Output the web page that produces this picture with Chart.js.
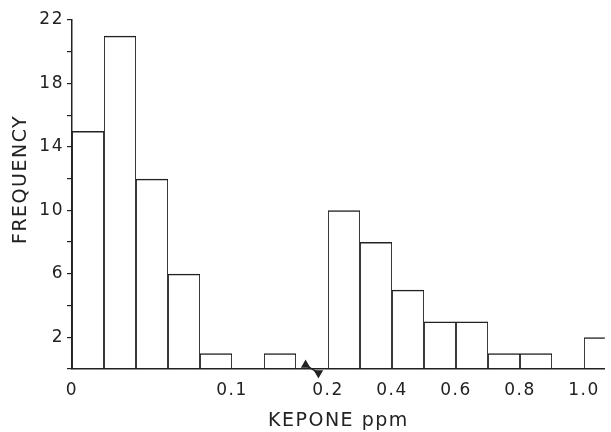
<!DOCTYPE html>
<html>
<head>
<meta charset="utf-8">
<script src="https://cdn.jsdelivr.net/npm/chart.js@4.4.1/dist/chart.umd.min.js"></script>
<style>
  html, body { margin: 0; padding: 0; background: #fff; }
  #wrap { width: 611px; height: 432px; }
</style>
</head>
<body>
<div id="wrap"><canvas id="hist"></canvas></div>
<script>
// Kepone histogram. Each bar sits in one equal-width slot on the axis;
// slot 7 is the axis break between 0.14 and 0.2 ppm.
const bins = ['0-0.02', '0.02-0.04', '0.04-0.06', '0.06-0.08', '0.08-0.10',
  '0.10-0.12', '0.12-0.14', 'break', '0.2-0.3', '0.3-0.4', '0.4-0.5',
  '0.5-0.6', '0.6-0.7', '0.7-0.8', '0.8-0.9', '0.9-1.0', '1.0-1.1'];
const frequency = [15, 21, 12, 6, 1, 0, 1, null, 10, 8, 5, 3, 3, 1, 1, 0, 2];

const tickSlots = [0, 5, 8, 10, 12, 14, 16];
const tickLabels = ['0', '0.1', '0.2', '0.4', '0.6', '0.8', '1.0'];
const yLabelled = [2, 6, 10, 14, 18, 22];

// little zigzag marking the axis break
const breakMarks = [{ x: 7.3, y: 0.25 }, { x: 7.7, y: -0.25 }];

const INK = '#222';

const spacing = {
    id: 'spacing',
    beforeUpdate(chart) { chart.ctx.letterSpacing = '1.5px'; },
    beforeDraw(chart) { chart.ctx.letterSpacing = '1.5px'; }
};

Chart.defaults.font.family = "'DejaVu Sans', sans-serif";
Chart.defaults.font.size = 15;
Chart.defaults.color = INK;

new Chart(document.getElementById('hist'), {
    type: 'bar',
    data: {
        datasets: [
            {
                type: 'bar',
                label: 'Frequency',
                data: frequency.map((f, i) => ({ x: i + 0.5, y: f })),
                backgroundColor: 'rgba(0,0,0,0)',
                borderColor: INK,
                borderWidth: { top: 1.5, left: 0.9, right: 0.9, bottom: 0 },
                inflateAmount: 0,
                barPercentage: 1,
                categoryPercentage: 1
            },
            {
                type: 'scatter',
                label: 'break',
                data: breakMarks,
                showLine: true,
                borderColor: INK,
                borderWidth: 1.5,
                backgroundColor: INK,
                pointStyle: 'triangle',
                pointRotation: [0, 180],
                pointRadius: 4,
                clip: false
            }
        ]
    },
    options: {
        responsive: true,
        maintainAspectRatio: false,
        animation: false,
        layout: { padding: { top: 20, right: 0, bottom: 0, left: 0 } },
        plugins: {
            legend: { display: false },
            tooltip: { enabled: false }
        },
        scales: {
            x: {
                type: 'linear',
                min: 0,
                max: 16.65,
                offset: false,
                grid: { display: true, drawOnChartArea: false, drawTicks: false, offset: false },
                border: { display: true, color: INK, width: 1.5 },
                afterBuildTicks: (scale) => {
                    scale.ticks = tickSlots.map(v => ({ value: v }));
                },
                afterFit: (scale) => { scale.height = 63; },
                ticks: {
                    padding: 11,
                    maxRotation: 0,
                    font: { size: 17 },
                    callback: (v) => tickLabels[tickSlots.indexOf(v)]
                },
                title: {
                    display: true,
                    text: 'KEPONE ppm',
                    font: { size: 19 },
                    padding: { top: 0, bottom: 0 }
                }
            },
            y: {
                min: 0,
                max: 22,
                grid: { drawOnChartArea: false, drawTicks: true, tickLength: 5, color: INK, lineWidth: 1.2 },
                border: { display: true, color: INK, width: 1.5 },
                afterFit: (scale) => { scale.width = 72; },
                ticks: {
                    stepSize: 2,
                    padding: 3,
                    font: { size: 17 },
                    callback: (v) => yLabelled.includes(v) ? v : ''
                },
                title: {
                    display: true,
                    text: '    FREQUENCY',
                    font: { size: 19 },
                    padding: { top: 10, bottom: 0 }
                }
            }
        }
    },
    plugins: [spacing]
});
</script>
</body>
</html>
